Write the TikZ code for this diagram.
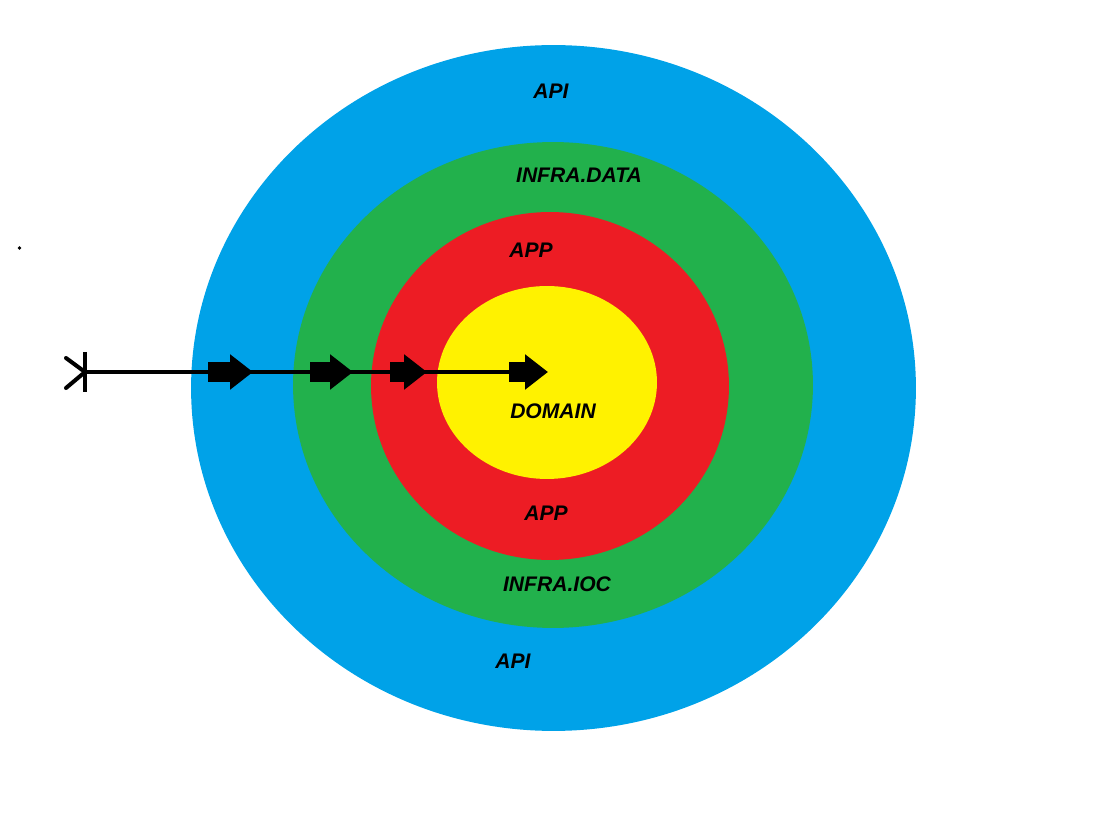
\documentclass[tikz,border=0pt]{standalone}
\usepackage{fontspec}
\setmainfont{Liberation Sans}
\usepackage{xcolor}
\definecolor{ringblue}{RGB}{0,162,232}
\definecolor{ringgreen}{RGB}{34,177,76}
\definecolor{ringred}{RGB}{237,28,36}
\definecolor{ringyellow}{RGB}{255,242,0}
\usetikzlibrary{arrows.meta, shapes.geometric}

\begin{document}
\begin{tikzpicture}[
          x=0.02cm, y=-0.02cm,
          ring/.style={
              ellipse,
              draw=none,
              inner sep=0pt
            },
          layer/.style={
              font=\fontsize{12}{14}\selectfont\bfseries\itshape,
              text=black,
              inner sep=0pt
            },
          flow/.style={black, line width=2.3pt},
          blockarr/.style={-{Triangle[length=0.46cm, width=0.68cm]}, black, line width=0.4cm}
        ]
        \useasboundingbox (0,0) rectangle (1113,827);
        % rings, outside in
        \node[ring, fill=ringblue, minimum width=14.5cm, minimum height=13.72cm] (api) at (553.5,388) {};
        \node[ring, fill=ringgreen, minimum width=10.4cm, minimum height=9.72cm] (infra) at (553,385) {};
        \node[ring, fill=ringred, minimum width=7.16cm, minimum height=6.96cm] (app) at (550,386) {};
        \node[ring, fill=ringyellow, minimum width=4.4cm, minimum height=3.86cm] (domain) at (547,382.5) {};
        % labels
        \node[layer] (apitop) at (551,91) {API};
        \node[layer] (infradata) at (579,175) {INFRA.DATA};
        \node[layer] (apptop) at (531,250) {APP};
        \node[layer] (domainlbl) at (553,411) {DOMAIN};
        \node[layer] (appbot) at (546,513) {APP};
        \node[layer] (infraioc) at (557,584) {INFRA.IOC};
        \node[layer] (apibot) at (513,661) {API};
        % request path
        \coordinate (user) at (85,372);
        \coordinate (core) at (545,372);
        \draw[flow] (user) -- (core);
        \draw[flow] (85,352) -- (85,392);
        \draw[flow, line cap=round] (66,358) -- (user) -- (66,388);
        \coordinate (a1) at (208,372); \coordinate (t1) at (253,372);
        \coordinate (a2) at (310,372); \coordinate (t2) at (353,372);
        \coordinate (a3) at (390,372); \coordinate (t3) at (427,372);
        \coordinate (a4) at (509,372); \coordinate (t4) at (548,372);
        \draw[blockarr] (a1) -- (t1);
        \draw[blockarr] (a2) -- (t2);
        \draw[blockarr] (a3) -- (t3);
        \draw[blockarr] (a4) -- (t4);
        % stray dot
        \fill[black] (19.5,248) circle (1.8);
      \end{tikzpicture}
\end{document}
